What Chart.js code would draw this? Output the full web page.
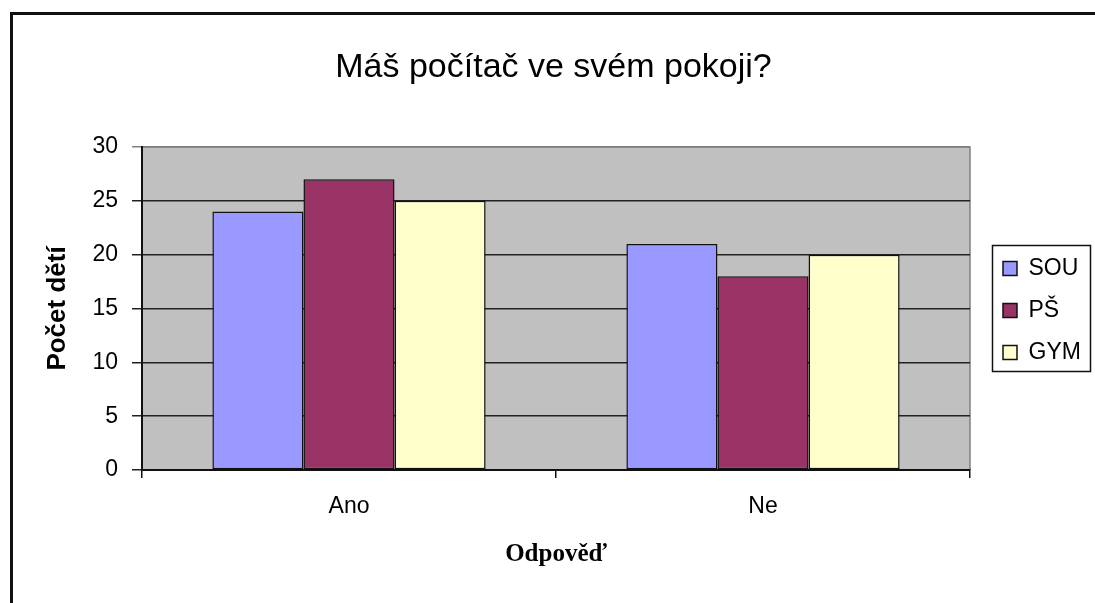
<!DOCTYPE html>
<html>
<head>
<meta charset="utf-8">
<script src="https://cdn.jsdelivr.net/npm/chart.js@4/dist/chart.umd.min.js"></script>
<style>
body{margin:0;background:#fff;}
#wrap{width:1095px;height:603px;position:relative;}
</style>
</head>
<body>
<div id="wrap"><canvas id="chart" width="1095" height="603"></canvas></div>
<script>
// data
const categories = ["Ano", "Ne"];
const sou = [24, 21];
const ps = [27, 18];
const gym = [25, 20];
const yTicks = [0, 5, 10, 15, 20, 25, 30];

const AXIS_FONT = "'Liberation Sans', Arial, sans-serif";

// gray plot area, outer frame, legend box like excel
const excelLook = {
  id: "excelLook",
  beforeLayout(chart){
    const lg = chart.legend;
    if(lg && !lg._patched){
      const f = lg.fit.bind(lg);
      lg.fit = function(){ f(); this.width = 125; };
      lg._patched = true;
    }
  },
  afterLayout(chart){
    const lg = chart.legend;
    lg.left += 14;
    lg.top += 9; lg.bottom += 9;
  },
  beforeDraw(chart){
    const {ctx, chartArea:a} = chart;
    ctx.save();
    ctx.fillStyle = "#fff";
    ctx.fillRect(0,0,chart.width,chart.height);
    ctx.strokeStyle = "#111";
    ctx.lineWidth = 3;
    ctx.beginPath();
    ctx.moveTo(11.5, chart.height);
    ctx.lineTo(11.5, 13.5);
    ctx.lineTo(chart.width, 13.5);
    ctx.stroke();
    ctx.fillStyle = "#c0c0c0";
    ctx.fillRect(a.left, a.top, a.right-a.left, a.bottom-a.top);
    ctx.strokeStyle = "#808080";
    ctx.lineWidth = 1.5;
    ctx.beginPath();
    ctx.moveTo(a.left, a.top);
    ctx.lineTo(a.right, a.top);
    ctx.lineTo(a.right, a.bottom);
    ctx.stroke();
    ctx.restore();
  },
  afterDraw(chart){
    const boxes = chart.legend.legendHitBoxes;
    if(!boxes || !boxes.length) return;
    let t=Infinity,b=-Infinity;
    boxes.forEach(h=>{ t=Math.min(t,h.top); b=Math.max(b,h.top+h.height); });
    const ctx = chart.ctx;
    const left = chart.legend.left + 8;
    ctx.save();
    ctx.strokeStyle = "#111";
    ctx.lineWidth = 1.5;
    ctx.strokeRect(left+0.5, t-11.5, 1090-left, (b-t)+19);
    ctx.restore();
  }
};

new Chart(document.getElementById("chart"),{
  type:"bar",
  data:{
    labels:categories,
    datasets:[
      {label:"SOU",data:sou,backgroundColor:"#9999ff"},
      {label:"PŠ",data:ps,backgroundColor:"#993366"},
      {label:"GYM",data:gym,backgroundColor:"#ffffcc"}
    ].map(d=>({...d,borderColor:"#111",borderWidth:1.5,borderSkipped:false,
      barPercentage:1,categoryPercentage:0.66}))
  },
  options:{
    responsive:false,
    animation:false,
    layout:{padding:{left:12,right:0,top:0,bottom:0}},
    plugins:{
      title:{
        display:true,
        text:"Máš počítač ve svém pokoji?",
        color:"#000",
        font:{family:AXIS_FONT,size:34,weight:"normal",lineHeight:1.2},
        padding:{top:47.6,bottom:58.6}
      },
      legend:{
        position:"right",
        labels:{
          color:"#000",
          font:{family:AXIS_FONT,size:23},
          boxWidth:14,boxHeight:14,padding:19
        }
      },
      tooltip:{enabled:false}
    },
    scales:{
      x:{
        offset:true,
        grid:{display:true,drawOnChartArea:false,drawTicks:true,tickLength:8,color:"#111",lineWidth:1.5,offset:true},
        border:{display:true,color:"#111",width:2},
        ticks:{color:"#000",font:{family:AXIS_FONT,size:23},padding:15,maxRotation:0},
        title:{display:true,text:"Odpověď",color:"#000",
          font:{family:"'Liberation Serif', 'Times New Roman', serif",size:25,weight:"bold"},
          padding:{top:0,bottom:33}},
        afterFit(s){ s.height = 133; }
      },
      y:{
        min:0,max:30,
        afterBuildTicks(s){ s.ticks = yTicks.map(v=>({value:v})); },
        grid:{color:c=>c.tick && c.tick.value===30 ? "#808080" : "#222",lineWidth:1.5,tickLength:10,drawTicks:true},
        border:{display:true,color:"#111",width:2},
        ticks:{color:"#000",font:{family:AXIS_FONT,size:23},padding:14},
        title:{display:true,text:"Počet dětí",color:"#000",
          font:{family:AXIS_FONT,size:26,weight:"bold"},
          padding:{top:30,bottom:0}},
        afterFit(s){ s.width = 130; }
      }
    }
  },
  plugins:[excelLook]
});
</script>
</body>
</html>
